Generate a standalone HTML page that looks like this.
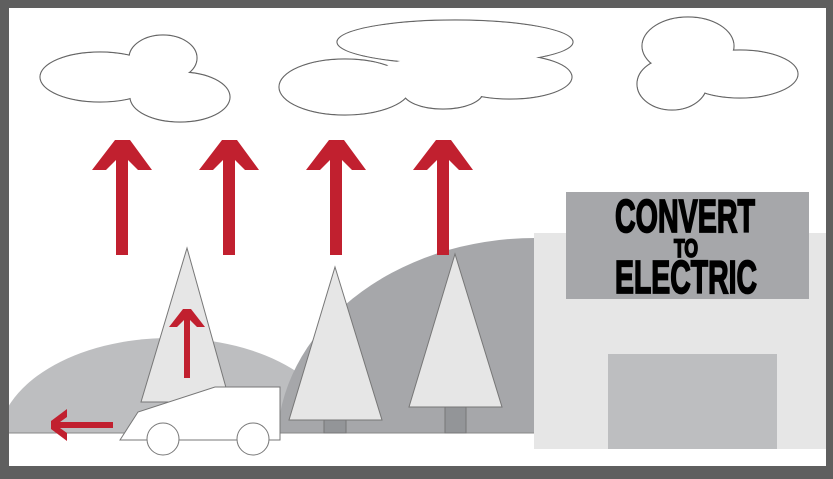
<!DOCTYPE html>
<html><head><style>html,body{margin:0;padding:0;background:#5f5f5f;width:833px;height:479px;overflow:hidden}svg{display:block}</style></head>
<body>
<svg width="833" height="479" viewBox="0 0 833 479" xmlns="http://www.w3.org/2000/svg">
<rect x="0" y="0" width="833" height="479" fill="#5f5f5f"/>
<rect x="9" y="8" width="817" height="458" fill="#ffffff"/>
<defs><clipPath id="c"><rect x="9" y="8" width="817" height="425"/></clipPath></defs>
<g clip-path="url(#c)">
<ellipse cx="170" cy="442" rx="172" ry="104" fill="#bdbec0"/>
<ellipse cx="535" cy="445" rx="258" ry="207" fill="#a6a7aa"/>
</g>
<line x1="9" y1="433" x2="535" y2="433" stroke="#888" stroke-width="1"/>
<!-- building -->
<rect x="534" y="233" width="292" height="216" fill="#e6e6e6"/>
<rect x="566" y="192" width="243" height="107" fill="#a6a7aa"/>
<rect x="608" y="354" width="169" height="95" fill="#bdbec0"/>
<g font-family="Liberation Sans Narrow, Liberation Sans, sans-serif" font-weight="bold" fill="#000" stroke="#000" stroke-width="1.8" text-anchor="middle">
<text x="685" y="232" font-size="46" textLength="140" lengthAdjust="spacingAndGlyphs">CONVERT</text>
<text x="686" y="257" font-size="25" textLength="24" lengthAdjust="spacingAndGlyphs">TO</text>
<text x="686" y="293" font-size="46" textLength="142" lengthAdjust="spacingAndGlyphs">ELECTRIC</text>
</g>
<!-- trees -->
<g stroke="#777" stroke-width="1">
<rect x="324" y="420" width="22" height="13" fill="#939598"/>
<rect x="445" y="407" width="21" height="26" fill="#939598"/>
<polygon points="187,248 230,402 141,402" fill="#e6e6e6"/>
<polygon points="335,267 382,420 289,420" fill="#e6e6e6"/>
<polygon points="455,254 502,407 409,407" fill="#e6e6e6"/>
<!-- car -->
<polygon points="120,440 138,412 215,387 280,387 280,440" fill="#fff"/>
<circle cx="163" cy="439" r="16" fill="#fff"/>
<circle cx="253" cy="439" r="16" fill="#fff"/>
</g>
<!-- clouds -->
<g stroke="#666" stroke-width="1.2" fill="#fff">
<ellipse cx="100" cy="77" rx="60" ry="25"/><ellipse cx="163" cy="58" rx="34" ry="23"/><ellipse cx="180" cy="97" rx="50" ry="25"/>
<ellipse cx="455" cy="42" rx="118" ry="22"/><ellipse cx="345" cy="87" rx="66" ry="28"/><ellipse cx="443" cy="92" rx="40" ry="17"/><ellipse cx="510" cy="77" rx="62" ry="22"/>
<ellipse cx="688" cy="46" rx="46" ry="29"/><ellipse cx="740" cy="74" rx="58" ry="24"/><ellipse cx="672" cy="84" rx="35" ry="26"/>
</g>
<g fill="#fff">
<ellipse cx="100" cy="77" rx="59.4" ry="24.4"/><ellipse cx="163" cy="58" rx="33.4" ry="22.4"/><ellipse cx="180" cy="97" rx="49.4" ry="24.4"/>
<ellipse cx="455" cy="42" rx="117.4" ry="21.4"/><ellipse cx="345" cy="87" rx="65.4" ry="27.4"/><ellipse cx="443" cy="92" rx="39.4" ry="16.4"/><ellipse cx="510" cy="77" rx="61.4" ry="21.4"/>
<ellipse cx="445" cy="74" rx="65" ry="18"/>
<ellipse cx="688" cy="46" rx="45.4" ry="28.4"/><ellipse cx="740" cy="74" rx="57.4" ry="23.4"/><ellipse cx="672" cy="84" rx="34.4" ry="25.4"/>
</g>
<!-- arrows -->
<g fill="#c1202f">
<polygon points="115,140 130,140 152,170 138,170 128,160 128,255 116,255 116,160 106,170 92,170"/>
<polygon points="115,140 130,140 152,170 138,170 128,160 128,255 116,255 116,160 106,170 92,170" transform="translate(107,0)"/>
<polygon points="115,140 130,140 152,170 138,170 128,160 128,255 116,255 116,160 106,170 92,170" transform="translate(214,0)"/>
<polygon points="115,140 130,140 152,170 138,170 128,160 128,255 116,255 116,160 106,170 92,170" transform="translate(321,0)"/>
<polygon points="183,309 191,309 205,327 197,327 190,320 190,378 184,378 184,320 177,327 169,327"/>
<polygon points="51,421 51,429 67,441 67,433 60,428 113,428 113,422 60,422 67,417 67,409"/>
</g>
</svg>
</body></html>
